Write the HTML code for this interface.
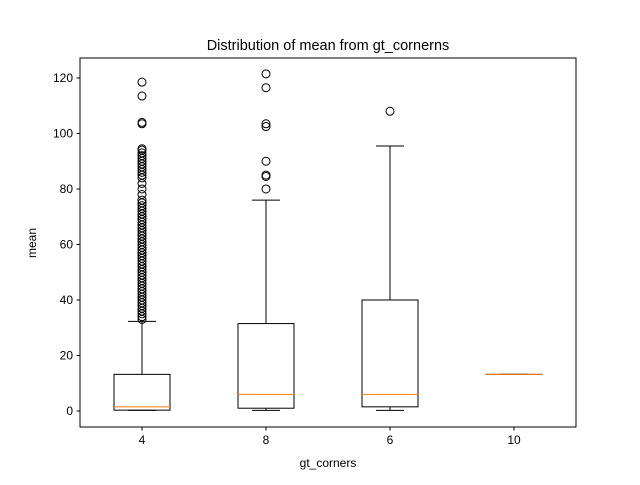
<!DOCTYPE html>
<html><head><meta charset="utf-8"><style>body{margin:0;background:#fff}svg text{font-family:"Liberation Sans","DejaVu Sans",sans-serif}</style></head>
<body>
<svg id="chart" width="640" height="480" xmlns="http://www.w3.org/2000/svg">
<rect width="640" height="480" fill="#fff"/>
<text x="328" y="50" font-size="14.5" text-anchor="middle">Distribution of mean from gt_cornerns</text>
<g id="plot"></g>
<rect x="80" y="58" width="496" height="369" fill="none" stroke="#000" stroke-width="1"/>
<text x="328" y="467" font-size="12" text-anchor="middle">gt_corners</text>
<text x="36" y="243" font-size="12" text-anchor="middle" transform="rotate(-90 36 243)">mean</text>
</svg>
<script>
const categories=["4","8","6","10"];
const q1=[0.3,1,1.5,13.2];
const med=[1.5,6,6,13.2];
const q3=[13.2,31.5,40,13.2];
const whisLo=[0.2,0.2,0.2,13.2];
const whisHi=[32.3,76,95.5,13.2];
const outliers=[
 [33,34,35,36,37,38,39,40,41,42,43,44,45,46,47,48,49,50,51,52,53,54,55,56,57,58,59,60,61,62,63,64,65,66,67,68,69,70,71,72,73,74,75,76,78,80,82,84,85,86,87,88,89,90,91,92,93,94,94.5,103.5,104,113.5,118.5],
 [80,84.5,85,90,102.5,103.5,116.5,121.5],
 [108],
 []
];
const yTicks=[0,20,40,60,80,100,120];
const ns="http://www.w3.org/2000/svg";
const g=document.getElementById('plot');
const L=80,R=576,T=58,B=427,ymin=-5.77,ymax=127.2;
const xS=i=>L+(i+0.5)*(R-L)/categories.length;
const yS=v=>B-(v-ymin)/(ymax-ymin)*(B-T);
function mk(t,a){const e=document.createElementNS(ns,t);for(const k in a)e.setAttribute(k,a[k]);g.appendChild(e);return e;}
yTicks.forEach(v=>{
 const y=yS(v);
 const l=mk('line',{x1:L-3.5,x2:L,y1:y,y2:y,stroke:'#000'});
 
 
 const t=mk('text',{x:L-7,y:y+4,'font-size':12,'text-anchor':'end'});t.textContent=v;
 
 
});
categories.forEach((c,i)=>{
 const x=xS(i),hw=28,cw=14;
 const tk=mk('line',{x1:x,x2:x,y1:B,y2:B+3.5,stroke:'#000'});
 
 
 const t=mk('text',{x:x,y:B+17,'font-size':12,'text-anchor':'middle'});t.textContent=c;
 
 
 const w1=mk('line',{x1:x,x2:x,y1:yS(whisLo[i]),y2:yS(q1[i]),stroke:'#000'});
 
 
 const w2=mk('line',{x1:x,x2:x,y1:yS(q3[i]),y2:yS(whisHi[i]),stroke:'#000'});
 
 
 const c1=mk('line',{x1:x-cw,x2:x+cw,y1:yS(whisLo[i]),y2:yS(whisLo[i]),stroke:'#000'});
 
 
 const c2=mk('line',{x1:x-cw,x2:x+cw,y1:yS(whisHi[i]),y2:yS(whisHi[i]),stroke:'#000'});
 
 
 const b=mk('rect',{x:x-hw,y:yS(q3[i]),width:2*hw,height:Math.max(0.01,yS(q1[i])-yS(q3[i])),fill:'none',stroke:'#000'});
 
 
 const m=mk('line',{x1:x-hw,x2:x+hw,y1:yS(med[i]),y2:yS(med[i]),stroke:'#ff7f0e'});
 
 
 outliers[i].forEach(v=>{
  const o=mk('circle',{cx:x,cy:yS(v),r:4,fill:'none',stroke:'#000'});
  
  
 });
});
</script>
</body></html>
